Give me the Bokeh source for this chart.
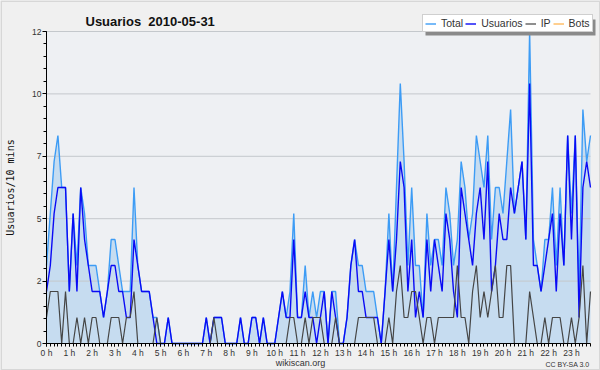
from bokeh.plotting import figure
from bokeh.models import Range1d, FixedTicker, Legend, LegendItem, Label, BoxAnnotation
from bokeh.embed import file_html
from bokeh.resources import INLINE

# ---- data (10-minute slots, 2010-05-31) ----
total = [3,5,7,8,6,6,2,5,3,6, 5,3,3,3,2,1,2,4,4,3, 2,2,2,6,3,2,2,2,1,1,
         0,0,1,0,0,0,0,0,0,0, 0,0,1,0,1,1,1,0,0,0, 0,1,0,0,1,1,0,1,0,0,
         0,1,2,1,2,5,1,1,3,1, 2,1,2,2,0,2,2,0,0,1, 3,4,3,3,2,2,2,1,0,2,
         5,2,6,10,7,3,6,3,3,1, 5,3,4,4,3,6,5,3,4,7, 6,4,5,8,7,6,8,4,6,6,
         5,7,9,5,6,7,4,12,4,3, 2,4,4,6,3,6,3,8,5,8, 2,9,7,8]
usuarios = [2,3,5,6,6,6,2,5,2,6, 4,3,2,2,2,1,2,3,3,2, 2,1,1,4,3,2,2,2,1,0,
            0,0,1,0,0,0,0,0,0,0, 0,0,1,0,1,1,1,0,0,0, 0,1,0,0,1,1,0,1,0,0,
            0,1,2,1,1,4,1,1,2,1, 1,0,1,2,0,2,1,0,0,1, 3,4,2,2,1,1,1,1,0,2,
            4,2,4,7,6,2,4,1,2,1, 4,2,4,3,2,5,4,2,1,6, 5,4,3,5,6,4,7,2,3,5,
            4,4,6,5,6,7,4,10,3,3, 2,3,4,5,2,5,3,8,4,8, 1,6,7,6]
ip = [1,2,2,2,0,2,0,0,1,0, 1,0,1,1,0,0,0,1,1,1, 0,1,1,2,0,0,0,0,0,1,
      0,0,0,0,0,0,0,0,0,0, 0,0,0,0,1,0,0,0,0,0, 0,0,0,0,0,0,0,0,0,0,
      0,0,0,0,1,1,0,0,1,0, 1,1,1,0,0,0,1,0,0,0, 0,0,1,1,1,1,1,0,0,0,
      1,0,2,3,1,1,2,2,1,0, 1,1,0,1,1,1,1,1,3,1, 1,0,2,3,1,2,1,2,3,1,
      1,3,3,0,0,0,0,2,1,0, 0,1,0,1,1,1,0,0,1,0, 1,3,0,2]
bots = [0] * 144

hours = list(range(24))
hour_labels = ["0 h", "1 h", "2 h", "3 h", "4 h", "5 h", "6 h", "7 h", "8 h", "9 h",
               "10 h", "11 h", "12 h", "13 h", "14 h", "15 h", "16 h", "17 h", "18 h",
               "19 h", "20 h", "21 h", "22 h", "23 h"]
y_ticks = [0, 2.4, 4.8, 7.2, 9.6, 12]
y_tick_labels = ["0", "2", "5", "7", "10", "12"]
series_names = ["Total", "Usuarios", "IP", "Bots"]

slot = 1 / 6
x = [i * slot for i in range(len(total))]
x_last = x[-1]
y_top = y_ticks[-1]

# ---- layout geometry (pixels of the 600x370 canvas) ----
W, H = 600, 370
PL, PR, PT, PB = 46, 590, 31, 343          # plot-area edges
px_x = (PR - PL) / x_last
px_y = (PB - PT) / y_top

FONT = "Liberation Sans"

p = figure(width=W, height=H,
           x_range=Range1d(-PL / px_x, x_last + (W - PR) / px_x),
           y_range=Range1d(-(H - PB) / px_y, y_top + PT / px_y),
           output_backend="svg", toolbar_location=None, min_border=0,
           background_fill_color="#f0f0f0", border_fill_color="#f0f0f0",
           outline_line_color=None)

# plot-area background
p.add_layout(BoxAnnotation(left=0, right=x_last, bottom=0, top=y_top, level="underlay",
                           fill_color="#eef0f3", fill_alpha=1, line_color=None))

p.varea(x=x, y1=[0] * len(x), y2=total, fill_color="#c6dcf0", fill_alpha=1)
p.segment(x0=[0] * 5, x1=[x_last] * 5, y0=y_ticks[1:], y1=y_ticks[1:],
          line_color="#c4c8cc", line_width=1)
r_total = p.line(x, total, line_color="#3d9cf5", line_width=1.4)
r_usu = p.line(x, usuarios, line_color="#0a0af5", line_width=1.4)
r_ip = p.line(x, ip, line_color="#454545", line_width=1.2)
r_bots = p.line(x, bots, line_color="#ffa020", line_width=1)

# axes, crossing at the origin
xa = p.xaxis[0]
xa.fixed_location = 0
xa.bounds = (0, x_last)
xa.ticker = FixedTicker(ticks=hours, minor_ticks=[k * slot for k in range(len(total))])
xa.major_label_overrides = dict(zip(hours, hour_labels))
ya = p.yaxis[0]
ya.fixed_location = 0
ya.bounds = (0, y_top)
ya.ticker = FixedTicker(ticks=y_ticks, minor_ticks=[k * 0.48 for k in range(26)])
ya.major_label_overrides = dict(zip(y_ticks, y_tick_labels))
ya.axis_label = "Usuarios/10 mins"
ya.axis_label_text_font = "DejaVu Sans Mono"
ya.axis_label_text_font_size = "10px"
ya.axis_label_text_font_style = "normal"
ya.axis_label_text_color = "#111111"
ya.axis_label_standoff = 13
for ax in (xa, ya):
    ax.axis_line_color = "black"
    ax.major_tick_line_color = "black"
    ax.minor_tick_line_color = "black"
    ax.major_tick_in = 0
    ax.minor_tick_in = 0
    ax.major_tick_out = 4
    ax.minor_tick_out = 3
    ax.major_label_text_font = FONT
    ax.major_label_text_font_size = "8.5px"
    ax.major_label_text_color = "#333333"
    ax.major_label_standoff = 1
xa.major_tick_out = 3
xa.major_label_standoff = 1

p.xgrid.visible = False
p.ygrid.visible = False

# legend shadow + legend
p.add_layout(BoxAnnotation(left=425, right=595, bottom=335, top=351,
                           left_units="screen", right_units="screen",
                           top_units="screen", bottom_units="screen",
                           fill_color="#8a8a8a", fill_alpha=1, line_color=None))
legend = Legend(items=[LegendItem(label=n, renderers=[r]) for n, r in
                       zip(series_names, [r_total, r_usu, r_ip, r_bots])],
                orientation="horizontal", location=(422, 338),
                background_fill_color="white", background_fill_alpha=1,
                border_line_color="#a0a0a0", border_line_width=1.5,
                label_text_font=FONT, label_text_font_size="10.5px",
                label_text_color="#333333",
                glyph_width=11, glyph_height=9, label_height=9, label_width=5,
                label_standoff=5, spacing=2, padding=2, margin=0)
p.add_layout(legend)

# title and footer texts
p.add_layout(Label(x=85, y=H - 21, x_units="screen", y_units="screen",
                   text="Usuarios \u00a02010-05-31", text_font=FONT, text_font_size="13px",
                   text_font_style="bold", text_color="#111111",
                   text_align="left", text_baseline="alphabetic"))
p.add_layout(Label(x=300, y=H - 362, x_units="screen", y_units="screen",
                   text="wikiscan.org", text_font=FONT, text_font_size="9px",
                   text_color="#333333", text_align="center", text_baseline="alphabetic"))
p.add_layout(Label(x=589, y=H - 364, x_units="screen", y_units="screen",
                   text="CC BY-SA 3.0", text_font=FONT, text_font_size="7px",
                   text_color="#333333", text_align="right", text_baseline="alphabetic"))

# outer frame
p.add_layout(BoxAnnotation(left=0, right=W, bottom=0, top=H,
                           left_units="screen", right_units="screen",
                           top_units="screen", bottom_units="screen",
                           fill_alpha=0, line_color="#a0a0a0", line_width=3))

open("out.html", "w").write(file_html(p, INLINE))
